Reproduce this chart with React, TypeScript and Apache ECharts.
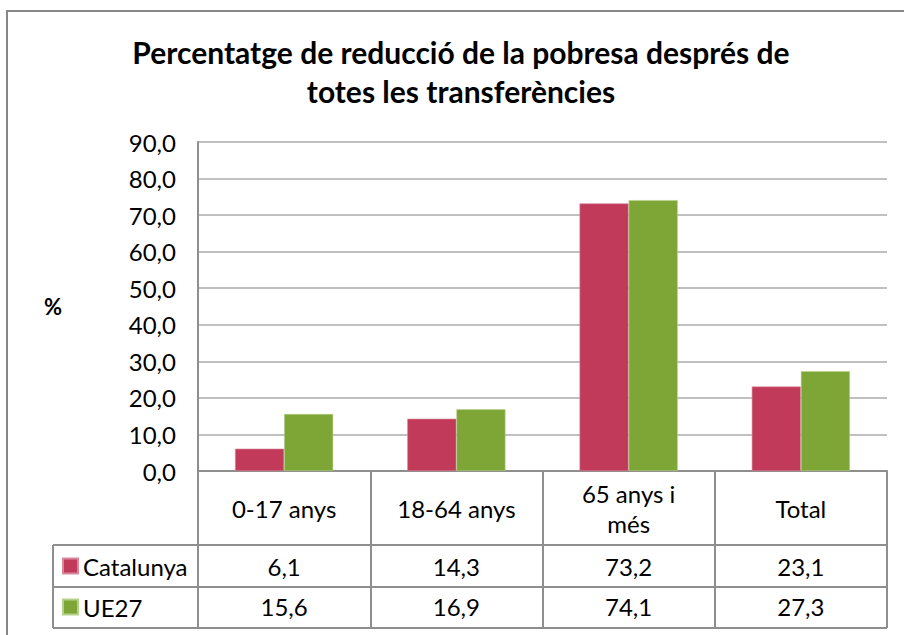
import React, { useEffect, useRef } from "react";
import * as echarts from "echarts";

const categories = ["0-17 anys", "18-64 anys", "65 anys i més", "Total"];
const seriesNames = ["Catalunya", "UE27"];
const catalunya = [6.1, 14.3, 73.2, 23.1];
const ue27 = [15.6, 16.9, 74.1, 27.3];
const titleText = "Percentatge de reducció de la pobresa després de\ntotes les transferències";
const yMin = 0;
const yMax = 90;
const yInterval = 10;

const fmt = (v: number) => v.toFixed(1).replace(".", ",");
const wrap = (v: string) =>
  (v.length > 11 ? v.replace(/ (\S+)$/, "\n$1") : v)
    .split("\n")
    .map((s) => `{c|${s}}`)
    .join("\n");

const FONT = "Lato, 'Open Sans', sans-serif";
const LINE = "#8E8E8E";
const FS = 24;

export default function App() {
  const ref = useRef<HTMLDivElement>(null);
  useEffect(() => {
    if (!ref.current) return;
    const chart = echarts.init(ref.current, null, { renderer: "svg" });
    const gridLeft = 198;
    const gridRight = 887;
    const axisY = 471;
    const tableLeft = 53;
    const rowLines = [545, 587, 628];
    const graphics: any[] = [
      {
        type: "rect",
        shape: { x: 7, y: 11, width: 920, height: 660 },
        style: { fill: "none", stroke: "#878787", lineWidth: 2 },
        silent: true,
      },
      ...rowLines.map((y) => ({
        type: "line",
        shape: { x1: tableLeft, y1: y, x2: gridRight, y2: y },
        style: { stroke: LINE, lineWidth: 2 },
        silent: true,
      })),
      {
        type: "line",
        shape: { x1: tableLeft, y1: rowLines[0], x2: tableLeft, y2: rowLines[2] },
        style: { stroke: LINE, lineWidth: 2 },
        silent: true,
      },
      {
        type: "line",
        shape: { x1: gridRight, y1: axisY, x2: gridRight, y2: rowLines[2] },
        style: { stroke: LINE, lineWidth: 2 },
        silent: true,
      },
    ];
    chart.setOption({
      animation: false,
      backgroundColor: "#ffffff",
      title: {
        text: titleText,
        left: 461,
        top: 32,
        padding: 0,
        textAlign: "center",
        textStyle: {
          fontFamily: FONT,
          fontSize: 30,
          fontWeight: "bold",
          color: "#000",
          lineHeight: 39,
        },
      },
      legend: {
        orient: "vertical",
        left: 62,
        top: 554,
        padding: 0,
        itemWidth: 15,
        itemHeight: 15,
        itemGap: 17,
        icon: "rect",
        data: seriesNames,
        textStyle: { fontFamily: FONT, fontSize: FS, color: "#000", lineHeight: 24 },
      },
      grid: { left: gridLeft, right: 904 - gridRight, top: 142, bottom: 635 - axisY },
      xAxis: [
        {
          type: "category",
          data: categories,
          position: "bottom",
          axisLine: { lineStyle: { color: LINE, width: 2 } },
          axisTick: { show: true, length: rowLines[2] - axisY, lineStyle: { color: LINE, width: 2 } },
          axisLabel: {
            fontFamily: FONT,
            fontSize: FS,
            color: "#000",
            margin: 37,
            verticalAlign: "middle",
            align: "center",
            lineHeight: 30,
            interval: 0,
            formatter: (v: string) => wrap(v),
            rich: {
              c: {
                fontFamily: FONT,
                fontSize: FS,
                color: "#000",
                lineHeight: 30,
                width: 150,
                align: "center",
              },
            },
          },
        },
        {
          type: "category",
          data: catalunya.map(fmt),
          position: "bottom",
          axisLine: { show: false },
          axisTick: { show: false },
          axisLabel: {
            fontFamily: FONT,
            fontSize: FS,
            color: "#000",
            margin: 95,
            verticalAlign: "middle",
            interval: 0,
          },
        },
        {
          type: "category",
          data: ue27.map(fmt),
          position: "bottom",
          axisLine: { show: false },
          axisTick: { show: false },
          axisLabel: {
            fontFamily: FONT,
            fontSize: FS,
            color: "#000",
            margin: 135,
            verticalAlign: "middle",
            interval: 0,
          },
        },
      ],
      yAxis: {
        type: "value",
        min: yMin,
        max: yMax,
        interval: yInterval,
        name: "%",
        nameLocation: "middle",
        nameRotate: 0,
        nameGap: 136,
        nameTextStyle: { fontFamily: FONT, fontSize: 22, fontWeight: "bold", color: "#000" },
        axisLine: { show: true, lineStyle: { color: LINE, width: 2 } },
        axisTick: { show: false },
        axisLabel: {
          fontFamily: FONT,
          fontSize: FS,
          color: "#000",
          margin: 22,
          formatter: (v: number) => fmt(v),
        },
        splitLine: { lineStyle: { color: "#ABABAB", width: 1.5 } },
      },
      series: [
        {
          name: seriesNames[0],
          type: "bar",
          data: catalunya,
          barGap: "0%",
          barCategoryGap: "43%",
          itemStyle: { color: "#C23A5A", borderColor: "#D9889B", borderWidth: 0.6 },
        },
        {
          name: seriesNames[1],
          type: "bar",
          data: ue27,
          barGap: "0%",
          barCategoryGap: "43%",
          itemStyle: { color: "#7EA636", borderColor: "#B6D28A", borderWidth: 0.6 },
        },
      ],
      graphic: graphics,
    });
    return () => chart.dispose();
  }, []);
  return (
    <div
      ref={ref}
      style={{ position: "fixed", left: 0, top: 0, width: 904, height: 635 }}
    />
  );
}
